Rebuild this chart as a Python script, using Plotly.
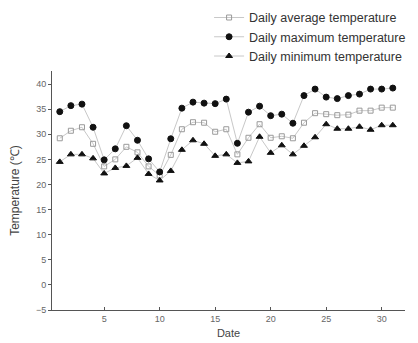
import plotly.graph_objects as go

days = list(range(1, 32))
avg_temp = [29.2, 30.7, 31.4, 28.1, 23.6, 25.0, 27.5, 26.4, 23.6, 21.8, 25.9, 31.0, 32.4, 32.3, 30.5,
            31.0, 26.0, 29.3, 32.0, 29.3, 29.6, 29.2, 32.3, 34.2, 34.0, 33.8, 33.9, 34.7, 34.7, 35.3, 35.3]
max_temp = [34.5, 35.7, 36.0, 31.4, 24.9, 27.1, 31.7, 28.8, 25.1, 22.5, 29.1, 35.2, 36.4, 36.2, 36.1,
            37.0, 28.2, 34.4, 35.6, 33.7, 34.0, 32.2, 37.7, 39.0, 37.4, 37.1, 37.7, 38.0, 39.0, 39.0, 39.2]
min_temp = [24.5, 26.0, 26.0, 25.2, 22.2, 23.3, 23.7, 25.3, 22.1, 20.8, 22.7, 26.9, 28.8, 28.1, 25.7,
            26.0, 24.3, 24.6, 29.5, 26.3, 27.8, 26.0, 27.7, 29.4, 32.0, 31.1, 31.1, 31.5, 30.9, 31.8, 31.8]

series = [
    ("Daily average temperature", avg_temp, "square-open", "#9a9a9a", 5),
    ("Daily maximum temperature", max_temp, "circle", "#111111", 6),
    ("Daily minimum temperature", min_temp, "triangle-up", "#111111", 6),
]

fig = go.Figure()
for name, vals, sym, col, sz in series:
    fig.add_trace(go.Scatter(
        x=days, y=vals, name=name, mode="lines+markers",
        line=dict(color="#c8c8c8", width=1),
        marker=dict(symbol=sym, color=col, size=sz, line=dict(color=col, width=1)),
    ))

fig.update_layout(
    width=418, height=343,
    margin=dict(l=44, r=21, t=63, b=41, autoexpand=False),
    paper_bgcolor="white", plot_bgcolor="white",
    font=dict(family="Liberation Sans, Arial, sans-serif", color="#333333"),
    showlegend=True,
    legend=dict(
        x=0.445, y=1.285, xanchor="left", yanchor="top",
        font=dict(size=12.5, color="#333333"),
        bgcolor="rgba(0,0,0,0)", tracegroupgap=0, itemwidth=30,
    ),
    xaxis=dict(
        range=[0.3, 32.1], tickvals=[5, 10, 15, 20, 25, 30], automargin=False,
        showgrid=False, zeroline=False, showline=True, linecolor="#555555", linewidth=1,
        ticks="inside", ticklen=3, tickcolor="#555555",
        tickfont=dict(size=9, color="#666666"),
        title=dict(text="Date", font=dict(size=11, color="#444444"), standoff=6),
    ),
    yaxis=dict(
        range=[-5, 42.6], tickvals=[-5, 0, 5, 10, 15, 20, 25, 30, 35, 40], automargin=False,
        showgrid=False, zeroline=False, showline=True, linecolor="#555555", linewidth=1,
        ticks="outside", ticklen=3, tickcolor="#555555",
        tickfont=dict(size=9, color="#666666"),
        title=dict(text="Temperature (℃)", font=dict(size=12, color="#444444"), standoff=14),
    ),
)

fig.write_html("out.html")
